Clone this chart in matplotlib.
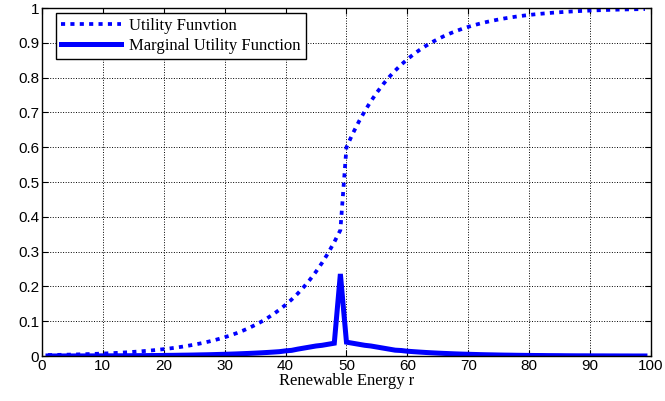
import matplotlib.pyplot as plt
import numpy as np

# renewable energy r = 1..99
r = np.arange(1, 100)

# utility function values
utility = [
    0.0030, 0.0033, 0.0036, 0.0040, 0.0044, 0.0049, 0.0054, 0.0060, 0.0066, 0.0073,
    0.0081, 0.0089, 0.0099, 0.0109, 0.0121, 0.0133, 0.0148, 0.0163, 0.0180, 0.0199,
    0.0220, 0.0243, 0.0269, 0.0297, 0.0328, 0.0363, 0.0401, 0.0443, 0.0490, 0.0541,
    0.0598, 0.0661, 0.0731, 0.0808, 0.0893, 0.0986, 0.1090, 0.1205, 0.1331, 0.1472,
    0.1626, 0.1797, 0.1986, 0.2195, 0.2426, 0.2681, 0.2963, 0.3275, 0.3619, 0.6000,
    0.6381, 0.6725, 0.7037, 0.7319, 0.7574, 0.7805, 0.8014, 0.8203, 0.8374, 0.8528,
    0.8669, 0.8795, 0.8910, 0.9014, 0.9107, 0.9192, 0.9269, 0.9339, 0.9402, 0.9459,
    0.9510, 0.9557, 0.9599, 0.9637, 0.9672, 0.9703, 0.9731, 0.9757, 0.9780, 0.9801,
    0.9820, 0.9837, 0.9852, 0.9867, 0.9879, 0.9891, 0.9901, 0.9911, 0.9919, 0.9927,
    0.9934, 0.9940, 0.9946, 0.9951, 0.9956, 0.9960, 0.9964, 0.9967, 0.9970,
]

# marginal utility values
marginal = [
    0.0003, 0.0003, 0.0003, 0.0004, 0.0004, 0.0005, 0.0005, 0.0006, 0.0006, 0.0007,
    0.0008, 0.0008, 0.0009, 0.0010, 0.0012, 0.0013, 0.0014, 0.0016, 0.0017, 0.0019,
    0.0021, 0.0023, 0.0026, 0.0028, 0.0031, 0.0035, 0.0038, 0.0042, 0.0047, 0.0052,
    0.0057, 0.0063, 0.0070, 0.0077, 0.0085, 0.0094, 0.0104, 0.0115, 0.0127, 0.0150,
    0.0165, 0.0200, 0.0230, 0.0260, 0.0290, 0.0310, 0.0340, 0.0370, 0.2360, 0.0400,
    0.0370, 0.0340, 0.0310, 0.0290, 0.0260, 0.0230, 0.0200, 0.0170, 0.0160, 0.0140,
    0.0127, 0.0115, 0.0104, 0.0094, 0.0085, 0.0077, 0.0070, 0.0063, 0.0057, 0.0052,
    0.0047, 0.0042, 0.0038, 0.0035, 0.0031, 0.0028, 0.0026, 0.0023, 0.0021, 0.0019,
    0.0017, 0.0016, 0.0014, 0.0013, 0.0012, 0.0010, 0.0009, 0.0008, 0.0008, 0.0007,
    0.0006, 0.0006, 0.0005, 0.0005, 0.0004, 0.0004, 0.0003, 0.0003, 0.0003,
]

xticks = np.arange(0, 101, 10)
yticks = [0, 0.1, 0.2, 0.3, 0.4, 0.5, 0.6, 0.7, 0.8, 0.9, 1]
ytick_labels = ['0', '0.1', '0.2', '0.3', '0.4', '0.5', '0.6', '0.7', '0.8', '0.9', '1']

fig = plt.figure(figsize=(6.65, 4.01), dpi=100)
ax = fig.add_axes([0.063, 0.112, 0.916, 0.868])

ax.plot(r, utility, color='#0000ff', linewidth=2.7, linestyle=(0, (1.1, 1.4)),
        label='Utility Funvtion')
ax.plot(r, marginal, color='#0000ff', linewidth=3.6, solid_joinstyle='miter',
        label='Marginal Utility Function')

ax.set_xlim(0, 100)
ax.set_ylim(0, 1)
ax.set_xticks(xticks)
ax.set_yticks(yticks)
ax.set_yticklabels(ytick_labels)
ax.grid(True, color='black', linestyle=':', linewidth=0.7)
ax.tick_params(direction='in', top=True, right=True, length=4, pad=2,
               labelsize=11)
for lab in ax.get_xticklabels() + ax.get_yticklabels():
    lab.set_family('Liberation Sans')
for s in ax.spines.values():
    s.set_linewidth(1.0)

ax.set_xlabel('Renewable Energy r', family='Liberation Serif', fontsize=12,
              labelpad=0)

leg = ax.legend(loc='upper left', prop={'family': 'Liberation Serif', 'size': 12},
                fancybox=False, framealpha=1, edgecolor='black',
                borderaxespad=0, handlelength=3.6, handletextpad=0.5,
                labelspacing=0.2, borderpad=0.3, bbox_to_anchor=(0.023, 0.985))
leg.get_frame().set_linewidth(1.0)

fig.savefig('out.png', dpi=100)
